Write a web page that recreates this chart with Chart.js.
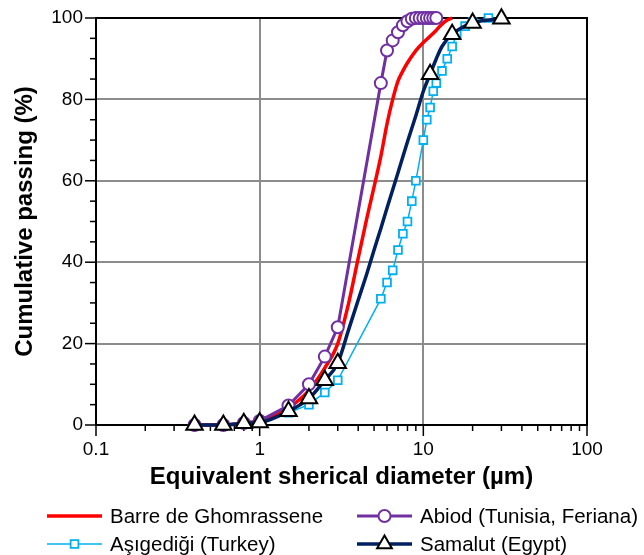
<!DOCTYPE html>
<html><head><meta charset="utf-8">
<script src="https://cdn.jsdelivr.net/npm/chart.js@4.4.0/dist/chart.umd.min.js"></script>
<style>html,body{margin:0;padding:0;background:#fff;}#wrap{width:644px;height:555px;}</style>
</head><body><div id="wrap"><canvas id="c" width="644" height="555"></canvas></div>
<script>
// ---- data ----
const xTickLabels = [0.1, 1, 10, 100];
const yTickLabels = [0, 20, 40, 60, 80, 100];
const seriesNames = ['Barre de Ghomrassene', 'Abiod (Tunisia, Feriana)', 'Aşıgediği (Turkey)', 'Samalut (Egypt)'];

const barreX = [0.4, 0.6, 0.8, 1, 1.5, 2, 2.5, 3, 3.5, 4, 4.5, 5, 5.5, 6, 6.5, 7, 7.5, 8, 9, 10, 11, 12, 13, 14, 15];
const barreY = [0, 0, 0.5, 1, 4.2, 8.5, 14, 20, 30, 41, 50.5, 58.5, 66, 74, 80, 84.5, 87, 89, 92, 94, 95.5, 97, 98.5, 99.5, 100];

const abiodX = [0.4, 0.6, 0.8, 1, 1.5, 2, 2.5, 3, 5.5, 6, 6.5, 7, 7.5, 8, 8.5, 9, 9.5, 10, 10.5, 11, 11.5, 12];
const abiodY = [0, 0, 0.5, 1, 4.8, 10, 16.8, 24, 84, 92, 94.5, 96.5, 98.2, 99.2, 99.8, 100, 100, 100, 100, 100, 100, 100];

const asigedigiX = [0.4, 0.6, 0.8, 1, 1.5, 2, 2.5, 3, 5.5, 6, 6.5, 7, 7.5, 8, 8.5, 9, 10, 10.5, 11, 11.5, 12, 13, 14, 15, 16, 18, 20, 25];
const asigedigiY = [0, 0, 0.3, 0.8, 3, 5, 8, 11, 31, 35, 38, 43, 47, 50, 55, 60, 70, 75, 78, 82, 84, 87, 90, 93, 96, 98, 99, 100];

const samalutX = [0.4, 0.6, 0.8, 1, 1.5, 2, 2.5, 3, 11, 15, 20, 30];
const samalutY = [0, 0, 0.4, 0.6, 3.4, 6.5, 11, 15.2, 86.2, 96, 98.8, 99.8];
const samalutCurveX = [3.5, 4, 4.5, 5, 5.5, 6, 7, 8, 9, 10, 12, 13];
const samalutCurveY = [23.5, 30.7, 37, 43, 48.3, 53.3, 62, 69.6, 76, 82, 90, 93];

// ---- build ----
const pts = (xs, ys) => xs.map((x, i) => ({x, y: ys[i]}));
const samalutLine = pts(samalutX, samalutY).concat(pts(samalutCurveX, samalutCurveY)).sort((a, b) => a.x - b.x);

const RED = '#ff0000', PURPLE = '#7030a0', CYAN = '#00b0f0', NAVY = '#002060';
const GRID = '#8c8c8c';
const FONT = '"Liberation Sans", Arial, sans-serif';
const isDecade = v => Math.abs(Math.log10(v) - Math.round(Math.log10(v))) < 1e-9;

const datasets = [
  {label: seriesNames[0], data: pts(barreX, barreY), borderColor: RED, borderWidth: 3.5, pointRadius: 0,
   cubicInterpolationMode: 'monotone', order: 2, clip: false},
  {label: seriesNames[1], data: pts(abiodX, abiodY), borderColor: PURPLE, borderWidth: 3, pointRadius: 6,
   pointStyle: 'circle', pointBackgroundColor: '#fff', pointBorderColor: PURPLE, pointBorderWidth: 2, order: 1, clip: false},
  {label: seriesNames[2], data: pts(asigedigiX, asigedigiY), borderColor: CYAN, borderWidth: 1.5, pointRadius: 5.5,
   pointStyle: 'rect', pointBackgroundColor: '#fff', pointBorderColor: CYAN, pointBorderWidth: 1.8, order: 3, clip: false},
  {label: seriesNames[3], data: samalutLine, borderColor: NAVY, borderWidth: 3.5, pointRadius: 0,
   cubicInterpolationMode: 'monotone', order: 0, clip: false},
  {label: seriesNames[3] + ' points', data: pts(samalutX, samalutY), showLine: false, pointRadius: 9.5,
   pointStyle: 'triangle', pointBackgroundColor: '#fff', pointBorderColor: '#000', pointBorderWidth: 2, order: -1, clip: false}
];

const framePlugin = {
  id: 'frame',
  beforeDatasetsDraw(chart) {
    const ctx = chart.ctx, a = chart.chartArea, xs = chart.scales.x, ys = chart.scales.y;
    ctx.save();
    ctx.strokeStyle = '#000';
    ctx.lineWidth = 1.5;
    xs.ticks.forEach(t => {
      const px = xs.getPixelForValue(t.value);
      const len = isDecade(t.value) ? 11 : 6;
      ctx.beginPath(); ctx.moveTo(px, a.bottom); ctx.lineTo(px, a.bottom + len); ctx.stroke();
    });
    ys.ticks.forEach(t => {
      const py = ys.getPixelForValue(t.value);
      const len = yTickLabels.includes(t.value) ? 11 : 6;
      ctx.beginPath(); ctx.moveTo(a.left, py); ctx.lineTo(a.left - len, py); ctx.stroke();
    });
    ctx.lineWidth = 2;
    ctx.strokeRect(a.left, a.top, a.right - a.left, a.bottom - a.top);
    ctx.restore();
  }
};

const legendPlugin = {
  id: 'customLegend',
  afterDraw(chart) {
    const ctx = chart.ctx;
    const items = [
      {ds: 0, x: 47, y: 516},
      {ds: 1, x: 357, y: 516},
      {ds: 2, x: 47, y: 544},
      {ds: 3, marker: 4, x: 357, y: 544}
    ];
    ctx.save();
    items.forEach(it => {
      const d = chart.data.datasets[it.ds];
      const lineLen = 55;
      ctx.strokeStyle = d.borderColor;
      ctx.lineWidth = d.borderWidth;
      ctx.beginPath(); ctx.moveTo(it.x, it.y); ctx.lineTo(it.x + lineLen, it.y); ctx.stroke();
      const m = it.marker !== undefined ? chart.data.datasets[it.marker] : d;
      if (m.pointRadius > 0) {
        ctx.fillStyle = m.pointBackgroundColor;
        ctx.strokeStyle = m.pointBorderColor;
        ctx.lineWidth = m.pointBorderWidth;
        ctx.beginPath();
        const r = m.pointStyle === 'triangle' ? 8.5 : m.pointRadius;
        const cx = it.x + lineLen / 2, cy = it.y;
        if (m.pointStyle === 'circle') { ctx.arc(cx, cy, r, 0, Math.PI * 2); }
        else if (m.pointStyle === 'rect') { const s = r * Math.SQRT1_2; ctx.rect(cx - s, cy - s, 2 * s, 2 * s); }
        else {
          for (let k = 0; k < 3; k++) {
            const ang = k * 2 * Math.PI / 3;
            const px = cx + Math.sin(ang) * r, py = cy - Math.cos(ang) * r;
            k ? ctx.lineTo(px, py) : ctx.moveTo(px, py);
          }
          ctx.closePath();
        }
        ctx.fill(); ctx.stroke();
      }
      ctx.fillStyle = '#000';
      ctx.font = '20.5px ' + FONT;
      ctx.textBaseline = 'middle';
      ctx.textAlign = 'left';
      ctx.fillText(seriesNames[it.ds], it.x + lineLen + 8, it.y + 1);
    });
    ctx.restore();
  }
};

new Chart(document.getElementById('c'), {
  type: 'line',
  data: {datasets},
  options: {
    responsive: false,
    animation: false,
    devicePixelRatio: 1,
    layout: {padding: {top: 18, right: 57, bottom: 63, left: 0}},
    plugins: {legend: {display: false}, tooltip: {enabled: false}},
    elements: {line: {fill: false}},
    scales: {
      x: {
        type: 'logarithmic', min: 0.1, max: 100,
        afterBuildTicks: s => {
          const t = [];
          for (let e = -1; e < 2; e++) for (let m = 1; m < 10; m++) t.push({value: m * Math.pow(10, e)});
          t.push({value: 100});
          s.ticks = t;
        },
        afterFit: s => { s.height = 67; s.paddingLeft = 0; s.paddingRight = 0; },
        border: {display: false},
        grid: {drawTicks: false, lineWidth: 2,
          color: c => (c.tick && isDecade(c.tick.value) && c.tick.value > 0.2 && c.tick.value < 50) ? GRID : 'rgba(0,0,0,0)'},
        ticks: {autoSkip: false, maxRotation: 0, padding: 13, color: '#000',
          font: {family: FONT, size: 19},
          callback: v => { const l = xTickLabels.find(q => Math.abs(q - v) < q * 1e-9); return l === undefined ? '' : String(l); }},
        title: {display: true, text: 'Equivalent sherical diameter (µm)', color: '#000',
          font: {family: FONT, size: 24, weight: 'bold'}, padding: {top: 0, bottom: 0}}
      },
      y: {
        min: 0, max: 100,
        afterFit: s => { s.width = 96; s.paddingTop = 0; s.paddingBottom = 0; },
        border: {display: false},
        grid: {drawTicks: false, lineWidth: 2,
          color: c => (c.tick && yTickLabels.includes(c.tick.value) && c.tick.value > 0 && c.tick.value < 100) ? GRID : 'rgba(0,0,0,0)'},
        ticks: {stepSize: 5, autoSkip: false, padding: 13, color: '#000',
          font: {family: FONT, size: 19},
          callback: v => yTickLabels.includes(v) ? String(v) : ''},
        title: {display: true, text: 'Cumulative passing (%)', color: '#000',
          font: {family: FONT, size: 24, weight: 'bold'}, padding: {top: 11, bottom: 0}}
      }
    }
  },
  plugins: [framePlugin, legendPlugin]
});
</script>
</body></html>
